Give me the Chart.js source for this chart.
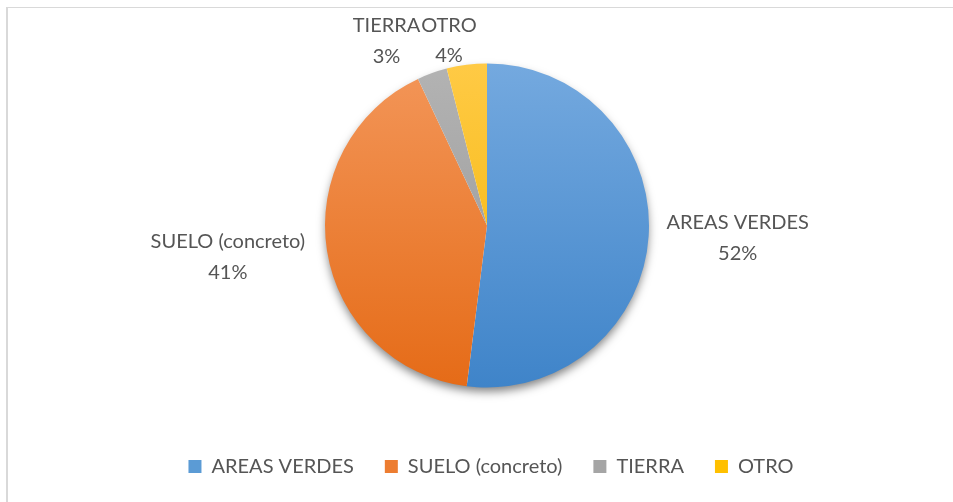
<!DOCTYPE html>
<html><head><meta charset="utf-8">
<script src="https://cdn.jsdelivr.net/npm/chart.js@4.4.1/dist/chart.umd.min.js"></script>
<style>html,body{margin:0;padding:0;background:#fff;}canvas{display:block;}</style>
</head><body>
<canvas id="c" width="953" height="502"></canvas>
<script>
// ---- data ----
const categories = ['AREAS VERDES', 'SUELO (concreto)', 'TIERRA', 'OTRO'];
const values = [52, 41, 3, 4];

// ---- style ----
const gradTop = ['#74a9df', '#f39659', '#b3b3b3', '#ffca45'];
const gradBottom = ['#3f84c9', '#e56b17', '#959595', '#f2b300'];
const solidColors = ['#5b9bd5', '#ed7d31', '#a5a5a5', '#ffc000'];
const FONT = 'Lato';
const FONT_SIZE = 20;
const TEXT_COLOR = '#555555';
const RADIUS = 162;
const LABEL_GAP = 18;
const LINE_H = 30.6;
const labelNudge = [[0, 0], [-5, 0], [-28, 6], [-12, 16]];

const total = values.reduce((a, b) => a + b, 0);
const pctText = values.map(v => Math.round(v / total * 100) + '%');

const framePlugin = {
  id: 'frame',
  beforeDraw(chart) {
    const c = chart.ctx;
    c.save();
    c.fillStyle = '#fff';
    c.fillRect(0, 0, chart.width, chart.height);
    c.fillStyle = '#d9d9d9';
    c.fillRect(6, 7, chart.width - 6, 1);
    c.fillRect(6, 7, 2, chart.height - 7);
    c.restore();
  }
};

const shadowPlugin = {
  id: 'pieShadow',
  beforeDatasetsDraw(chart) {
    const arc = chart.getDatasetMeta(0).data[0];
    if (!arc) return;
    const c = chart.ctx;
    c.save();
    c.shadowColor = 'rgba(0,0,0,0.5)';
    c.shadowBlur = 10;
    c.shadowOffsetY = 5;
    c.fillStyle = '#fff';
    c.beginPath();
    c.arc(arc.x, arc.y, arc.outerRadius - 1, 0, Math.PI * 2);
    c.fill();
    c.restore();
  }
};

const labelPlugin = {
  id: 'outLabels',
  afterDatasetsDraw(chart) {
    const c = chart.ctx;
    c.save();
    c.font = FONT_SIZE + 'px ' + FONT;
    c.fillStyle = TEXT_COLOR;
    c.textAlign = 'center';
    c.textBaseline = 'middle';
    chart.getDatasetMeta(0).data.forEach((arc, i) => {
      const p = arc.getProps(['x', 'y', 'startAngle', 'endAngle', 'outerRadius'], true);
      const mid = (p.startAngle + p.endAngle) / 2;
      const dx = Math.cos(mid), dy = Math.sin(mid);
      const ax = p.x + (p.outerRadius + LABEL_GAP) * dx;
      const ay = p.y + (p.outerRadius + LABEL_GAP) * dy;
      const lines = [categories[i], pctText[i]];
      const w = Math.max(...lines.map(l => c.measureText(l).width));
      const h = LINE_H + FONT_SIZE * 0.72;
      const bx = ax + dx * w / 2 + labelNudge[i][0];
      const by = ay + dy * h / 2 + labelNudge[i][1];
      c.fillText(lines[0], bx, by - LINE_H / 2);
      c.fillText(lines[1], bx, by + LINE_H / 2);
    });
    c.restore();
  }
};

const legendShift = {
  id: 'legendShift',
  afterLayout(chart) {
    if (chart.legend) { chart.legend.left += 4; chart.legend.right += 4; }
  }
};

function sliceGradient(context) {
  const chart = context.chart;
  const a = chart.chartArea;
  const i = context.dataIndex;
  if (!a) return solidColors[i];
  const cy = (a.top + a.bottom) / 2;
  const g = chart.ctx.createLinearGradient(0, cy - RADIUS, 0, cy + RADIUS);
  g.addColorStop(0, gradTop[i]);
  g.addColorStop(1, gradBottom[i]);
  return g;
}

new Chart(document.getElementById('c'), {
  type: 'pie',
  data: {
    labels: categories,
    datasets: [{
      data: values,
      backgroundColor: sliceGradient,
      borderWidth: 0,
      hoverOffset: 0
    }]
  },
  options: {
    responsive: false,
    animation: false,
    radius: RADIUS,
    layout: { padding: { top: 25.5, left: 21, right: 0, bottom: 15.5 } },
    plugins: {
      tooltip: { enabled: false },
      legend: {
        position: 'bottom',
        labels: {
          boxWidth: 13,
          boxHeight: 13,
          padding: 31,
          color: TEXT_COLOR,
          font: { family: FONT, size: FONT_SIZE },
          generateLabels(chart) {
            return categories.map((t, i) => ({
              text: t,
              fillStyle: solidColors[i],
              strokeStyle: solidColors[i],
              lineWidth: 0,
              fontColor: TEXT_COLOR,
              hidden: false,
              index: i
            }));
          }
        }
      }
    }
  },
  plugins: [framePlugin, shadowPlugin, labelPlugin, legendShift]
});
</script>
</body></html>
